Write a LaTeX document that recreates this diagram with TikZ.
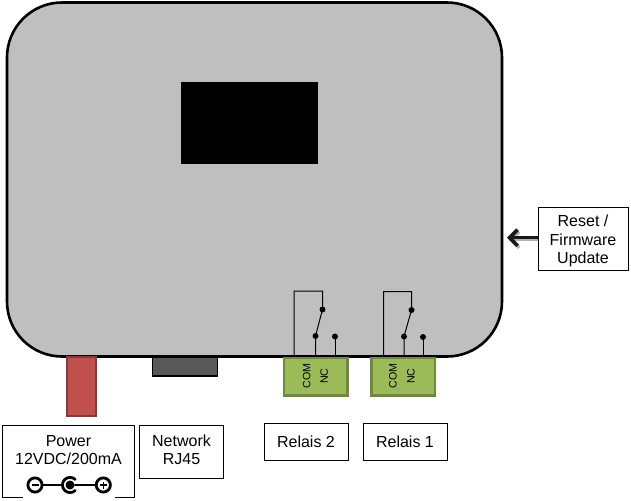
\documentclass[tikz,border=0pt]{standalone}
\usepackage{fontspec}
\setmainfont{Liberation Sans}
\usetikzlibrary{arrows.meta}
\definecolor{bodygrey}{HTML}{BFBFBF}
\definecolor{redfill}{HTML}{C0504D}
\definecolor{redline}{HTML}{8C3836}
\definecolor{greenfill}{HTML}{9BBB59}
\definecolor{greenline}{HTML}{71893F}
\definecolor{darkport}{HTML}{595959}
\tikzset{
  x=1pt,y=-1pt,
  every node/.style={outer sep=0pt},
  labelbox/.style={draw=black,line width=1pt,fill=white,align=center,font=\fontsize{16}{18.5}\selectfont,inner sep=0pt,anchor=north west},
  termblock/.style={draw=greenline,fill=greenfill,line width=2.5pt,minimum width=63.5pt,minimum height=37.5pt,inner sep=0pt,anchor=north west},
  termtext/.style={rotate=90,font=\fontsize{10.7}{12}\selectfont,inner sep=0pt},
  dot/.style={circle,fill=black,inner sep=0pt,minimum size=6pt},
  wire/.style={draw=black,line width=1pt},
  sym/.style={draw=black,line width=2.8pt,line cap=round},
  barbhead/.style={-{Straight Barb[length=8pt,width=16pt,line width=3.6pt]},line width=3.4pt}
}
\begin{document}
\begin{tikzpicture}
\useasboundingbox (0,0) rectangle (631,500);
\fill[white] (0,0) rectangle (631,500);
% main housing
\node[draw=black,fill=bodygrey,line width=2.6pt,rounded corners=55pt,minimum width=495pt,minimum height=354pt,inner sep=0pt,anchor=north west] (housing) at (7,2.5) {};
\node[fill=black,minimum width=137pt,minimum height=82pt,inner sep=0pt,anchor=north west] (display) at (181,82) {};
% ports
\node[draw=redline,fill=redfill,line width=2pt,minimum width=29.5pt,minimum height=59pt,inner sep=0pt,anchor=north west] (power) at (66.5,356.5) {};
\node[draw=black,fill=darkport,line width=1.6pt,minimum width=65pt,minimum height=19pt,inner sep=0pt,anchor=north west] (rj) at (152.5,357) {};
\node[termblock] (blockB) at (284.2,358) {};
\node[termblock] (blockA) at (371.7,358) {};
\node[termtext] (comB) at (306.7,376) {COM};
\node[termtext] (ncB) at (324.3,376) {NC};
\node[termtext] (comA) at (393,376) {COM};
\node[termtext] (ncA) at (411,376) {NC};
% label boxes
\node[labelbox,minimum width=132pt,minimum height=72pt] (powerbox) at (2.5,425.5) {};
\fill[white] (23,495) rectangle (115,499);
\node[font=\fontsize{16}{18.5}\selectfont,align=center,inner sep=0pt] (powertext) at (68.5,450) {Power\\12VDC/200mA};
\node[labelbox,minimum width=84pt,minimum height=53pt,text depth=5pt] (netbox) at (139.5,425.5) {Network\\RJ45};
\node[labelbox,minimum width=84pt,minimum height=36.5pt] (relB) at (264,423.5) {Relais 2};
\node[labelbox,minimum width=84pt,minimum height=36.5pt] (relA) at (363,423.5) {Relais 1};
\node[labelbox,minimum width=90pt,minimum height=63pt] (resetbox) at (538,207.5) {\rule{0pt}{15.5pt}Reset /\\Firmware\\Update};
% polarity symbol
\node[circle,sym,minimum size=14.2pt,inner sep=0pt] (minus) at (35,485) {};
\node[circle,sym,minimum size=14.2pt,inner sep=0pt] (plus) at (103.3,485) {};
\node[circle,fill=black,minimum size=9pt,inner sep=0pt] (centre) at (70,485) {};
\draw[sym] (centre) ++(5.2,-5.6) arc[start angle=-47,end angle=-313,radius=7.6];
\draw[sym] (minus) -- (62,485);
\draw[sym] (75,485) -- (plus);
\draw[black,line width=1.6pt] (31.5,485) -- (38.5,485);
\draw[black,line width=1.5pt] (99.8,485) -- (106.8,485) (103.3,481.5) -- (103.3,488.5);
% relay 2
\coordinate (bCom) at (294,356.5);
\coordinate (bTopL) at (294,291);
\coordinate (bTopR) at (322.5,291);
\node[dot] (bUp) at (322.5,309.5) {};
\node[dot] (bNo) at (315.5,336) {};
\node[dot] (bNc) at (335,336.5) {};
\coordinate (bNoEnd) at (315.5,356.5);
\coordinate (bNcEnd) at (335,356.5);
\draw[wire] (bCom) -- (bTopL) -- (bTopR) -- (bUp.center) -- (bNo.center) -- (bNoEnd);
\draw[wire] (bNc.center) -- (bNcEnd);
% relay 1
\coordinate (aCom) at (383.5,356.5);
\coordinate (aTopL) at (383.5,291.5);
\coordinate (aTopR) at (411.5,291.5);
\node[dot] (aUp) at (411.5,310) {};
\node[dot] (aNo) at (404,336.5) {};
\node[dot] (aNc) at (423,337) {};
\coordinate (aNoEnd) at (404,356.5);
\coordinate (aNcEnd) at (423,356.5);
\draw[wire] (aCom) -- (aTopL) -- (aTopR) -- (aUp.center) -- (aNo.center) -- (aNoEnd);
\draw[wire] (aNc.center) -- (aNcEnd);
% reset arrow
\coordinate (resetTip) at (507,237.7);
\coordinate (resetShadow) at (508.5,239.7);
\coordinate (resetStart) at (537.5,239.7);
\draw[gray!60,barbhead] (resetStart) -- (resetShadow);
\draw[black!90,barbhead] (resetbox.west |- resetTip) -- (resetTip);
\end{tikzpicture}
\end{document}
